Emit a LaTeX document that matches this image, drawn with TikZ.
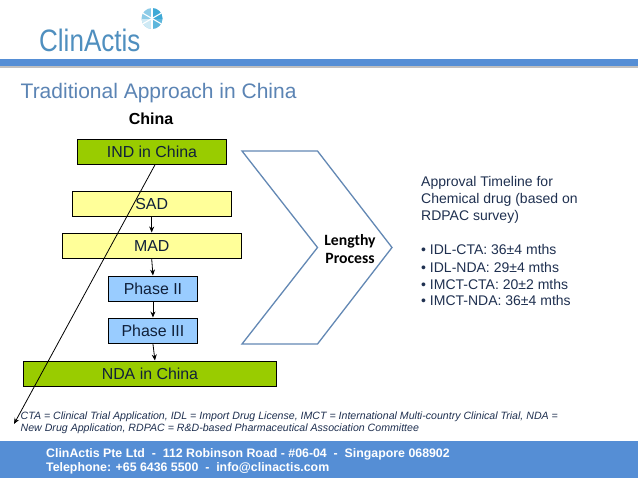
\documentclass[tikz,border=0pt]{standalone}
\usepackage{fontspec}
\setmainfont{Liberation Sans}
\newfontfamily\calfont{Carlito}
\usetikzlibrary{arrows.meta,calc}
\definecolor{barblue}{HTML}{558ED5}
\definecolor{titleblue}{HTML}{5B84B4}
\definecolor{logoblue}{HTML}{4F8FBF}
\definecolor{ballblue}{HTML}{3FA9D6}
\definecolor{bodyblue}{HTML}{1F3050}
\definecolor{stepink}{HTML}{10203A}
\definecolor{chevblue}{HTML}{6388B4}
\definecolor{stepgreen}{HTML}{99CC00}
\definecolor{stepyellow}{HTML}{FFFF99}
\definecolor{stepblue}{HTML}{99CCFF}
\tikzset{
  stepbox/.style={draw=black,line width=0.9pt,anchor=north west,inner sep=0pt,align=center,text=stepink,font=\fontsize{15.9}{18}\selectfont},
  flow/.style={draw=black,line width=0.8pt,-{Stealth[length=6pt,width=5pt]}},
  body/.style={anchor=west,inner sep=0pt,text=bodyblue,font=\fontsize{14}{16}\selectfont},
  note/.style={anchor=base west,inner sep=0pt,text=bodyblue,font=\itshape\fontsize{10.6}{12}\selectfont},
  foot/.style={anchor=base west,inner sep=0pt,text=white,font=\bfseries\fontsize{12.35}{14}\selectfont},
}
\newcommand{\stepnode}[7]{\node[stepbox,fill=#2,minimum width=#5pt,minimum height=#6pt] (#1) at (#3,#4) {#7};}
\begin{document}
\begin{tikzpicture}[x=1pt,y=-1pt]
\useasboundingbox (0,0) rectangle (638,479);
\fill[white] (0,0) rectangle (638,479);
% header bar
\fill[black!25] (0,60) rectangle (638,67.5);
\fill[barblue] (0,59) rectangle (638,66);
% logo
\node[anchor=base west,inner sep=0pt,text=logoblue,font=\fontsize{31}{33}\selectfont,xscale=0.84] (logo) at (39,52) {ClinActis};
\fill[ballblue!60] (152,18.5) circle (10.5);
\begin{scope}
\clip (152,18.5) circle (10.5);
\fill[ballblue!25] (141,18.5) rectangle (152,30);
\fill[ballblue] (152,7) rectangle (164,18.5);
\fill[ballblue!85] (152,18.5) rectangle (164,30);
\foreach \a in {90,30,-30} \draw[white,line width=1.1pt] ($(152,18.5)+(\a:12)$) -- ($(152,18.5)+(\a+180:12)$);
\end{scope}
% title
\node[anchor=base west,inner sep=0pt,text=titleblue,font=\fontsize{21}{23}\selectfont] (title) at (20.5,98.5) {Traditional Approach in China};
\node[anchor=base,inner sep=0pt,font=\bfseries\fontsize{16}{18}\selectfont] (china) at (151,124) {China};
% steps
\stepnode{ind}{stepgreen}{77}{138.5}{149}{25.5}{IND in China}
\stepnode{sad}{stepyellow}{72}{190.5}{158.5}{25.5}{SAD}
\stepnode{mad}{stepyellow}{62}{232.5}{178.5}{25.5}{MAD}
\stepnode{ph2}{stepblue}{108}{275.5}{89}{25.5}{Phase II}
\stepnode{ph3}{stepblue}{108}{317.5}{89}{25.5}{Phase III}
\stepnode{nda}{stepgreen}{23}{360.5}{253}{25}{NDA in China}
% connectors
\coordinate (longend) at (14,424);
\coordinate (ndatop) at ($(nda.north)+(5,0)$);
\draw[flow] ($(ind.south)+(3,0)$) -- (longend);
\draw[flow] (sad.south) -- (mad.north);
\draw[flow] (mad.south) -- (ph2.north);
\draw[flow] (ph2.south) -- (ph3.north);
\draw[flow] (ph3.south) -- (ndatop);
% chevron
\draw[chevblue,line width=1.3pt,line join=miter] (242,151) -- (317.5,151) -- (392,247.5) -- (317.5,344) -- (242,344) -- (317.5,247.5) -- cycle;
\node[inner sep=0pt,align=center,font=\calfont\bfseries\fontsize{15.7}{18}\selectfont] (lengthy) at (350,249) {Lengthy\\Process};
% right text
\node[body] (a1) at (421,183) {Approval Timeline for};
\node[body] (a2) at (421,199.5) {Chemical drug (based on};
\node[body] (a3) at (421,216.5) {RDPAC survey)};
\node[body] (b1) at (421,249) {• IDL-CTA: 36±4 mths};
\node[body] (b2) at (421,267.5) {• IDL-NDA: 29±4 mths};
\node[body] (b3) at (421,284) {• IMCT-CTA: 20±2 mths};
\node[body] (b4) at (421,300.5) {• IMCT-NDA: 36±4 mths};
% footnote
\node[note] (f1) at (20.5,419) {CTA = Clinical Trial Application, IDL = Import Drug License, IMCT = International Multi-country Clinical Trial, NDA =};
\node[note] (f2) at (20.5,431) {New Drug Application, RDPAC = R\&D-based Pharmaceutical Association Committee};
% footer
\fill[barblue] (0,441) rectangle (638,478);
\node[foot] (c1) at (46,457) {ClinActis Pte Ltd\ \ -\ \ 112 Robinson Road - \#06-04\ \ -\ \ Singapore 068902};
\node[foot] (c2) at (46,471) {Telephone: +65 6436 5500\ \ -\ \ info@clinactis.com};
\end{tikzpicture}
\end{document}
